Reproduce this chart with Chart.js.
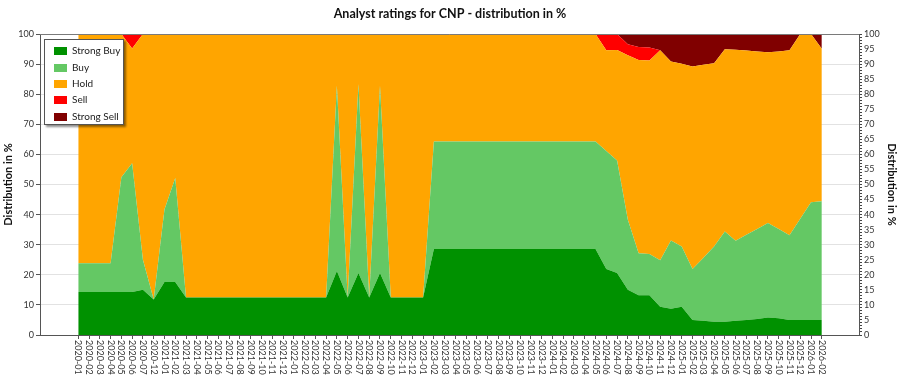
<!DOCTYPE html>
<html><head><meta charset="utf-8">
<script src="https://cdn.jsdelivr.net/npm/chart.js@4.4.0/dist/chart.umd.min.js"></script>
<style>
html,body{margin:0;padding:0;background:#fff;}
#wrap{position:relative;width:900px;height:375px;}
#legend{position:absolute;left:44px;top:39px;width:80px;height:86px;background:#fff;border:1px solid #555;box-shadow:2px 2px 2px rgba(0,0,0,0.45);box-sizing:border-box;font-family:Lato,'Open Sans',sans-serif;font-size:10px;color:#222;}
.item{position:absolute;left:9px;height:12px;line-height:12px;white-space:nowrap;}
.sw{display:inline-block;width:13px;height:8px;margin-right:5px;vertical-align:-1px;}
</style></head>
<body><div id="wrap"><canvas id="c" width="900" height="375"></canvas><div id="legend"></div></div>
<script>
const labels = ['2020-01','2020-02','2020-03','2020-04','2020-05','2020-06','2020-07','2020-12',
'2021-01','2021-02','2021-03','2021-04','2021-05','2021-06','2021-07','2021-08','2021-09','2021-10','2021-11','2021-12',
'2022-01','2022-02','2022-03','2022-04','2022-05','2022-06','2022-07','2022-08','2022-09','2022-10','2022-11','2022-12',
'2023-01','2023-02','2023-03','2023-04','2023-05','2023-06','2023-07','2023-08','2023-09','2023-10','2023-11','2023-12',
'2024-01','2024-02','2024-03','2024-04','2024-05','2024-06','2024-07','2024-08','2024-09','2024-10','2024-11','2024-12',
'2025-01','2025-02','2025-03','2025-04','2025-05','2025-06','2025-07','2025-08','2025-09','2025-10','2025-11','2025-12',
'2026-01','2026-02'];

const strongBuy = [14.3,14.3,14.3,14.3,14.3,14.3,15.0,11.8,
17.6,17.6,12.5,12.5,12.5,12.5,12.5,12.5,12.5,12.5,12.5,12.5,
12.5,12.5,12.5,12.5,21.3,12.5,20.6,12.5,20.6,12.5,12.5,12.5,
12.5,28.6,28.6,28.6,28.6,28.6,28.6,28.6,28.6,28.6,28.6,28.6,
28.6,28.6,28.6,28.6,28.6,21.9,20.6,15.0,13.2,13.2,9.4,8.7,
9.4,5.0,4.7,4.4,4.4,4.7,5.0,5.3,5.8,5.6,5.0,5.0,
5.0,5.0];

const buy = [9.5,9.5,9.5,9.5,38.1,42.8,10.0,0,
24.1,34.6,0,0,0,0,0,0,0,0,0,0,
0,0,0,0,61.5,0,62.7,0,62.2,0,0,0,
0,35.7,35.7,35.7,35.7,35.7,35.7,35.7,35.7,35.7,35.7,35.7,
35.7,35.7,35.7,35.7,35.7,39.2,37.4,23.3,14.0,13.7,15.4,22.7,
20.0,16.9,20.9,25.0,30.0,26.6,28.3,29.9,31.4,29.6,28.1,33.6,
39.1,39.4];

const hold = [76.2,76.2,76.2,76.2,47.6,38.1,75.0,88.2,
58.3,47.8,87.5,87.5,87.5,87.5,87.5,87.5,87.5,87.5,87.5,87.5,
87.5,87.5,87.5,87.5,17.2,87.5,16.7,87.5,17.2,87.5,87.5,87.5,
87.5,35.7,35.7,35.7,35.7,35.7,35.7,35.7,35.7,35.7,35.7,35.7,
35.7,35.7,35.7,35.7,35.7,33.5,36.7,54.6,64.2,64.3,69.8,59.5,
60.7,67.3,64.2,60.9,60.5,63.5,61.2,59.0,56.7,59.0,61.5,61.4,
55.9,50.7];

const sell = [0,0,0,0,0,4.8,0,0,
0,0,0,0,0,0,0,0,0,0,0,0,
0,0,0,0,0,0,0,0,0,0,0,0,
0,0,0,0,0,0,0,0,0,0,0,0,
0,0,0,0,0,5.4,5.3,3.7,4.3,4.3,0,0,
0,0,0,0,0,0,0,0,0,0,0,0,
0,0];

const strongSell = [0,0,0,0,0,0,0,0,
0,0,0,0,0,0,0,0,0,0,0,0,
0,0,0,0,0,0,0,0,0,0,0,0,
0,0,0,0,0,0,0,0,0,0,0,0,
0,0,0,0,0,0,0,3.4,4.3,4.5,5.4,9.1,
9.9,10.8,10.2,9.7,5.1,5.2,5.5,5.8,6.1,5.8,5.4,0,
0,4.9];

const seriesNames = ['Strong Buy','Buy','Hold','Sell','Strong Sell'];
const seriesColors = ['#009100','#64c864','#ffa500','#ff0000','#800000'];
const seriesValues = [strongBuy, buy, hold, sell, strongSell];

const FONT = "Lato, 'Open Sans', sans-serif";

const datasets = seriesValues.map((vals, k) => ({
  label: seriesNames[k],
  data: vals.map((v, i) => ({x: i, y: v})),
  backgroundColor: seriesColors[k],
  borderColor: seriesColors[k],
  borderWidth: 0,
  fill: k === 0 ? 'origin' : '-1',
  pointRadius: 0,
  tension: 0
}));

const xLabelPlugin = {
  id: 'xlabels',
  afterDraw(chart) {
    const ctx = chart.ctx, xs = chart.scales.x, ca = chart.chartArea;
    ctx.save();
    ctx.strokeStyle = '#7a7a7a';
    ctx.lineWidth = 1;
    ctx.beginPath();
    ctx.moveTo(ca.left, ca.top + 0.5);
    ctx.lineTo(ca.right, ca.top + 0.5);
    ctx.stroke();
    ctx.fillStyle = '#333';
    ctx.font = '9px ' + FONT;
    ctx.textAlign = 'left';
    ctx.textBaseline = 'middle';
    labels.forEach((lab, i) => {
      const x = xs.getPixelForValue(i);
      ctx.save();
      ctx.translate(x, ca.bottom + 5);
      ctx.rotate(Math.PI / 2);
      ctx.fillText(lab, 0, 0);
      ctx.restore();
    });
    ctx.restore();
  }
};

const chart = new Chart(document.getElementById('c'), {
  type: 'line',
  data: { datasets },
  plugins: [xLabelPlugin],
  options: {
    responsive: false,
    animation: false,
    devicePixelRatio: 1,
    layout: { padding: { top: 2, bottom: 36, left: 2, right: 2 } },
    plugins: {
      legend: { display: false },
      tooltip: { enabled: false },
      title: {
        display: true,
        text: 'Analyst ratings for CNP - distribution in %',
        color: '#111',
        font: { family: FONT, size: 12.5, weight: 'bold' },
        padding: { top: 4, bottom: 13 }
      }
    },
    scales: {
      x: {
        type: 'linear',
        min: -3.55,
        max: 72.45,
        afterBuildTicks: axis => { axis.ticks = labels.map((l, i) => ({ value: i })); },
        ticks: { display: false },
        grid: { display: true, drawOnChartArea: false, drawTicks: true, tickLength: 4, tickColor: '#555' },
        border: { display: true, color: '#555' }
      },
      y: {
        position: 'left',
        stacked: true,
        min: 0, max: 100,
        afterFit: s => { s.width = 38; },
        ticks: { stepSize: 10, color: '#333', font: { family: FONT, size: 9 }, padding: 2 },
        grid: { color: '#e2e2e2', tickLength: 4, tickColor: '#555' },
        border: { display: true, color: '#555' },
        title: { display: true, text: 'Distribution in %', color: '#111', font: { family: FONT, size: 11, weight: 'bold' }, padding: 0 }
      },
      y2: {
        position: 'right',
        min: 0, max: 100,
        afterFit: s => { s.width = 39; },
        ticks: { stepSize: 1, autoSkip: false, color: '#333', font: { family: FONT, size: 9 }, padding: 2,
          callback: v => (v % 5 === 0 ? String(v) : '') },
        grid: { drawOnChartArea: false, tickLength: 3, tickColor: '#444' },
        border: { display: true, color: '#555' },
        title: { display: true, text: 'Distribution in %', color: '#111', font: { family: FONT, size: 11, weight: 'bold' }, padding: 0 }
      }
    }
  }
});

const leg = document.getElementById('legend');
const rowTops = [4, 20.5, 37, 53, 69.5];
chart.data.datasets.forEach((ds, k) => {
  const d = document.createElement('div');
  d.className = 'item';
  d.style.top = rowTops[k] + 'px';
  const sw = document.createElement('span');
  sw.className = 'sw';
  sw.style.background = ds.backgroundColor;
  d.appendChild(sw);
  d.appendChild(document.createTextNode(ds.label));
  leg.appendChild(d);
});
</script>
</body></html>
